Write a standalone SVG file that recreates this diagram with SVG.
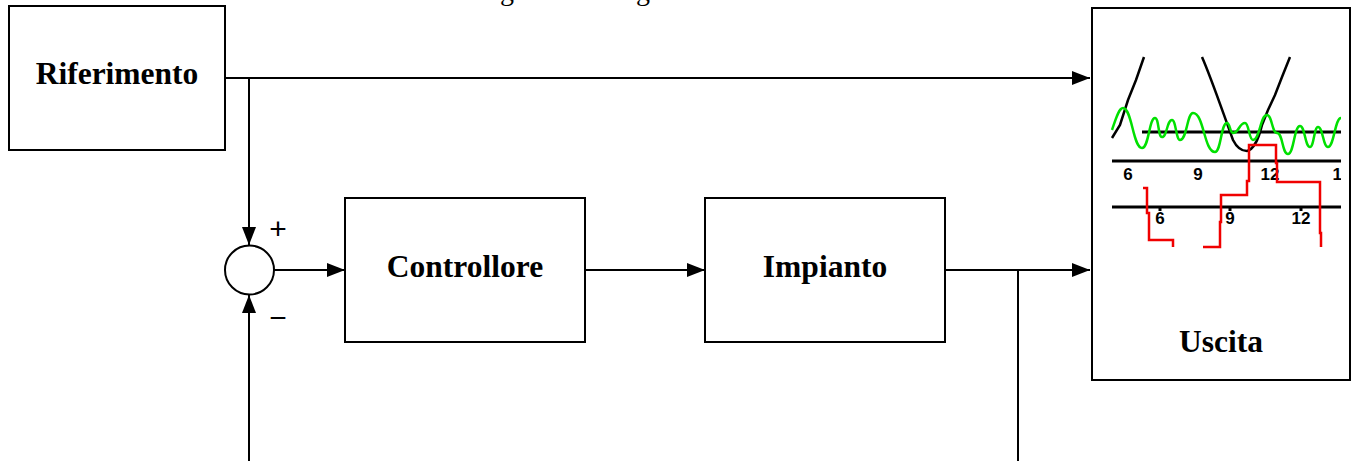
<svg xmlns="http://www.w3.org/2000/svg" width="1358" height="461" viewBox="0 0 1358 461">
<style>
.box{fill:#fff;stroke:#000;stroke-width:2}
.lbl{font-family:"Liberation Serif","Times New Roman",serif;font-weight:bold;font-size:31.5px;fill:#000;text-anchor:middle}
.top{font-family:"Liberation Serif","Times New Roman",serif;font-size:28px;fill:#000}
.sign{font-family:"Liberation Sans",Arial,sans-serif;font-size:30px;fill:#000;text-anchor:middle}
.wire{fill:none;stroke:#000;stroke-width:2}
.ax{fill:none;stroke:#000;stroke-width:3}
.tick{font-family:"Liberation Sans",Arial,sans-serif;font-weight:bold;font-size:17px;fill:#000;text-anchor:middle}
.blk{fill:none;stroke:#000;stroke-width:2.5}
.grn{fill:none;stroke:#00e000;stroke-width:2.5}
.red{fill:none;stroke:#f00000;stroke-width:2.5}
</style>
<defs>
<marker id="arr" markerWidth="18" markerHeight="14" refX="18" refY="7" orient="auto" markerUnits="userSpaceOnUse">
<path d="M0,0 L18,7 L0,14 Z" fill="#000"/>
</marker>
<clipPath id="chart"><rect x="1093" y="9" width="248" height="370"/></clipPath>
</defs>
<rect width="1358" height="461" fill="#fff"/>
<text class="top" x="500" y="0">g</text>
<text class="top" x="636" y="0">g</text>
<g id="connectors">
<path class="wire" d="M225,78 H1090" marker-end="url(#arr)"/>
<path class="wire" d="M249,78 V245" marker-end="url(#arr)"/>
<path class="wire" d="M274,270 H345" marker-end="url(#arr)"/>
<path class="wire" d="M585,270 H705" marker-end="url(#arr)"/>
<path class="wire" d="M945,270 H1090" marker-end="url(#arr)"/>
<path class="wire" d="M1018,270 V461"/>
<path class="wire" d="M249,461 V295" marker-end="url(#arr)"/>
</g>
<g id="riferimento">
<rect class="box" x="9" y="6" width="216" height="144"/>
<text class="lbl" x="117" y="84">Riferimento</text>
</g>
<g id="sommatore">
<circle cx="249.5" cy="270" r="24.5" fill="#fff" stroke="#000" stroke-width="2"/>
<text class="sign" x="278" y="239">+</text>
<text class="sign" x="278" y="328">−</text>
</g>
<g id="controllore">
<rect class="box" x="345" y="198" width="240" height="144"/>
<text class="lbl" x="465" y="277">Controllore</text>
</g>
<g id="impianto">
<rect class="box" x="705" y="198" width="240" height="144"/>
<text class="lbl" x="825" y="277">Impianto</text>
</g>
<g id="uscita">
<rect class="box" x="1092" y="8" width="258" height="372"/>
<g clip-path="url(#chart)">
<path class="ax" d="M1142,132 H1341"/>
<path class="ax" d="M1112,161 H1341"/>
<path class="ax" d="M1112,207 H1341"/>
<path class="ax" d="M1160,207 V211 M1230,207 V211 M1301,207 V211" stroke-width="2"/>
<text class="tick" x="1128" y="180">6</text>
<text class="tick" x="1198" y="180">9</text>
<text class="tick" x="1270" y="180">12</text>
<text class="tick" x="1342" y="180">13</text>
<text class="tick" x="1160" y="224">6</text>
<text class="tick" x="1230" y="224">9</text>
<text class="tick" x="1301" y="224">12</text>
<path class="blk" d="M1112,138 L1120,125 L1128,100 L1136,80 L1144,57"/>
<path class="blk" d="M1202,57 C1212,80 1222,110 1233,140 C1238,150 1243,151 1247,151 C1252,150 1258,142 1262,125 L1268,110 L1275,95 L1282,77 L1290,57"/>
<path class="grn" d="M1112,130 C1116,118 1119,108 1123,108 C1132,108 1133,148 1142,148 C1149,148 1149,118 1155,118 C1159,118 1158,137 1162,137 C1167,137 1167,120 1172,120 C1176,120 1176,140 1180,140 C1187,140 1187,113 1193,113 C1204,113 1204,152 1215,152 C1221,152 1221,123 1227,123 C1230,123 1230,133 1233,133 C1239,133 1239,123 1245,123 C1249,123 1249,140 1253,140 C1260,140 1260,115 1267,115 C1272,115 1272,133 1277,133 C1283,133 1282,154 1288,154 C1294,154 1294,126 1300,126 C1305,126 1305,147 1310,147 C1314,147 1314,127 1318,127 C1323,127 1323,147 1328,147 C1334,147 1335,118 1341,118"/>
<path class="red" d="M1143,188 H1147 V213 H1149 V240 H1173 V247"/>
<path class="red" d="M1203,247 H1220 V222 H1221 V195 H1247 V181 H1249 V145 H1276 V163 H1277 V182 H1320 V233 H1321 V247"/>
</g>
<text class="lbl" x="1221" y="352">Uscita</text>
</g>
</svg>
